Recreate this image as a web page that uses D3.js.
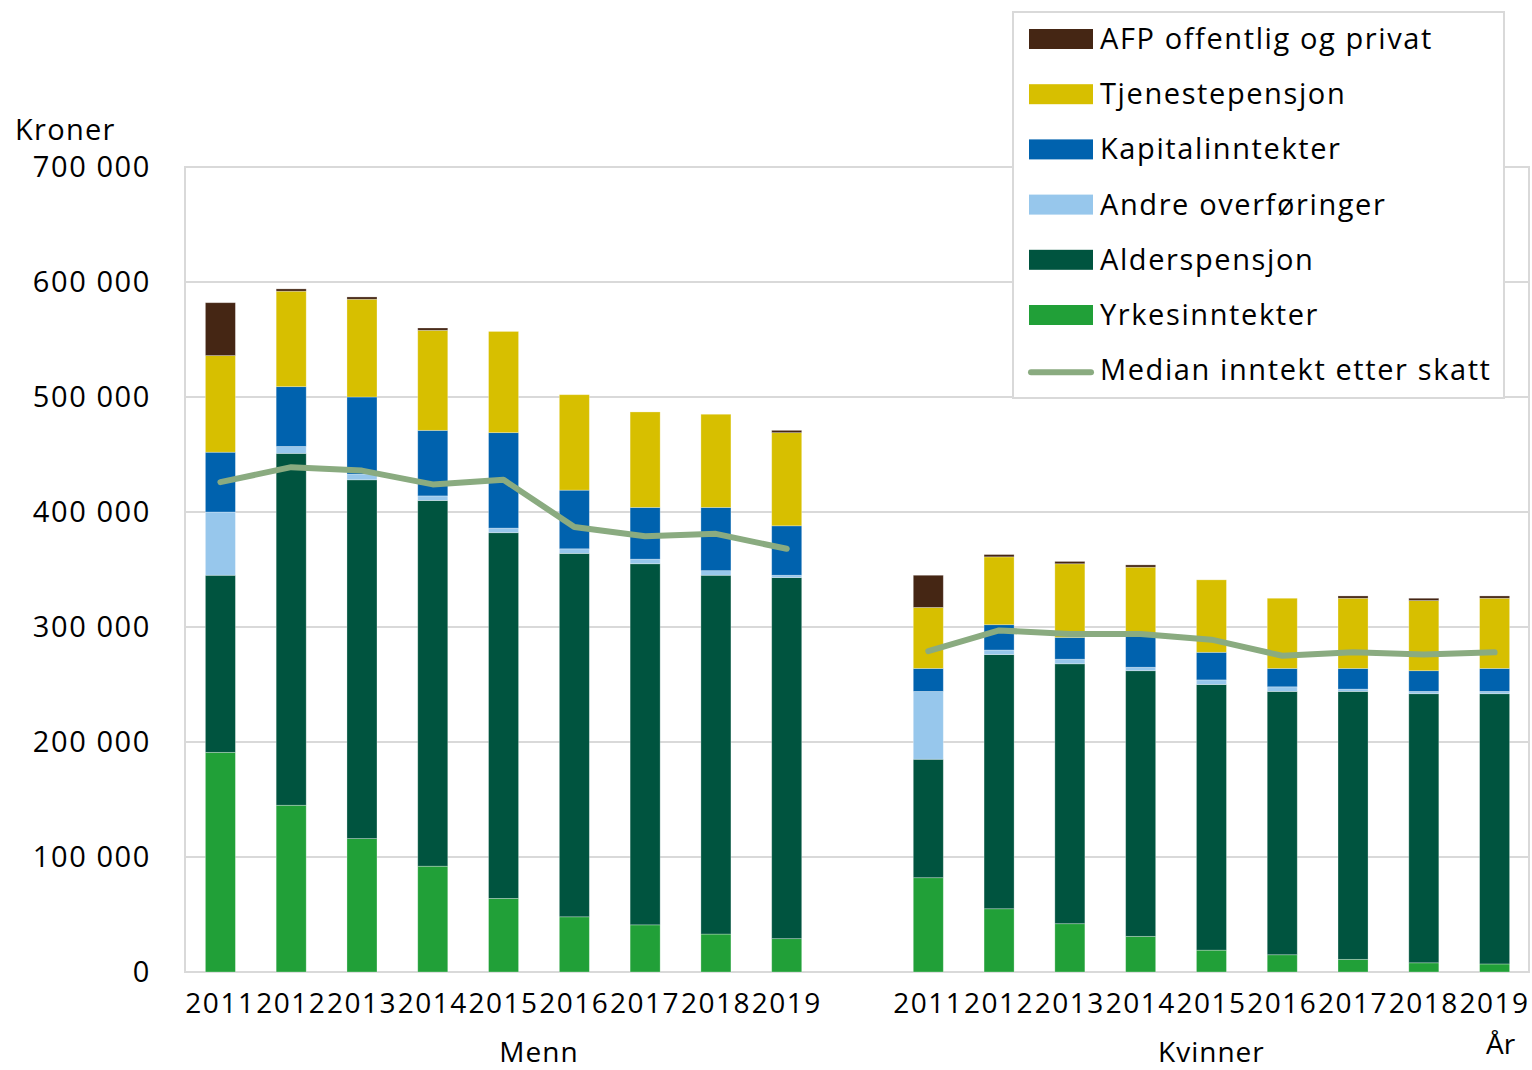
<!DOCTYPE html>
<html><head><meta charset="utf-8">
<script src="https://cdn.jsdelivr.net/npm/d3@7"></script>
<style>body{margin:0;background:#fff}svg{display:block}text{font-family:"Open Sans",sans-serif;fill:#000}</style>
</head><body><svg id="c" width="1532" height="1070"></svg>
<script>
const years = ["2011","2012","2013","2014","2015","2016","2017","2018","2019"];
const groups = ["Menn","Kvinner"];
const seriesNames = ["Yrkesinntekter","Alderspensjon","Andre overføringer","Kapitalinntekter","Tjenestepensjon","AFP offentlig og privat"];
const colors = ["#21a038","#00543f","#97c7ec","#0062ae","#d7bf00","#452614"];
// values in kroner (Menn 2011-2019, Kvinner 2011-2019)
const yrkesMenn   = [191000,145000,116000,92000,64000,48000,41000,33000,29000];
const alderMenn   = [154000,306000,312000,318000,318000,316000,314000,312000,314000];
const andreMenn   = [55000,6000,5000,4000,4000,4000,4000,4000,2000];
const kapMenn     = [52000,52000,67000,57000,83000,51000,45000,55000,43000];
const tjenMenn    = [84000,83000,85000,87000,88000,83000,83000,81000,81000];
const afpMenn     = [46000,2000,2000,2000,0,0,0,0,2000];
const yrkesKv     = [82000,55000,42000,31000,19000,15000,11000,8000,7000];
const alderKv     = [103000,221000,226000,231000,231000,229000,233000,234000,235000];
const andreKv     = [59000,4000,4000,3000,4000,4000,2000,2000,2000];
const kapKv       = [20000,22000,19000,27000,24000,16000,18000,18000,20000];
const tjenKv      = [53000,59000,64000,60000,63000,61000,61000,61000,61000];
const afpKv       = [28000,2000,2000,2000,0,0,2000,2000,2000];
const medianMenn  = [426000,439000,436000,424000,428000,387000,379000,381000,368000];
const medianKv    = [279000,297000,294000,294000,289000,275000,278000,276000,278000];
const yTicks = [0,100000,200000,300000,400000,500000,600000,700000];

const svg = d3.select("#c");
const L=185, R=1530, T=167, B=972;
const keys = [...years.map(y=>"M"+y),"gap",...years.map(y=>"K"+y)];
const x = d3.scaleBand().domain(keys).range([L,R]).paddingInner(0.576).paddingOuter(0.288);
const y = d3.scaleLinear().domain([0,700000]).range([B,T]);
const loc = d3.formatLocale({decimal:",",thousands:"\u00a0",grouping:[3],currency:["",""]});
const fmt = loc.format(",d");

// gridlines
svg.append("g").selectAll("line").data(yTicks.slice(1)).join("line")
  .attr("x1",L).attr("x2",R-1).attr("y1",d=>y(d)).attr("y2",d=>y(d))
  .attr("stroke","#d9d9d9").attr("stroke-width",2);
// plot border
svg.append("rect").attr("x",L).attr("y",T).attr("width",R-1-L).attr("height",B-T)
  .attr("fill","none").attr("stroke","#d9d9d9").attr("stroke-width",2);

// y axis labels
const yAxis = d3.axisLeft(y).tickValues(yTicks).tickFormat(fmt).tickSize(0).tickPadding(34);
const ga = svg.append("g").attr("transform",`translate(${L},0)`).call(yAxis);
ga.select(".domain").remove();
ga.selectAll("text").attr("font-size",29).attr("font-family","Open Sans").attr("fill","#000").attr("letter-spacing",1.6);
svg.append("text").attr("x",15).attr("y",140).attr("font-size",29).attr("letter-spacing",1.3).text("Kroner");

// stacked data
const menn = [yrkesMenn,alderMenn,andreMenn,kapMenn,tjenMenn,afpMenn];
const kv = [yrkesKv,alderKv,andreKv,kapKv,tjenKv,afpKv];
const rows = [];
years.forEach((yr,i)=>{ const r={key:"M"+yr}; seriesNames.forEach((s,j)=>r[s]=menn[j][i]); rows.push(r); });
years.forEach((yr,i)=>{ const r={key:"K"+yr}; seriesNames.forEach((s,j)=>r[s]=kv[j][i]); rows.push(r); });
const stack = d3.stack().keys(seriesNames)(rows);
svg.append("g").selectAll("g").data(stack).join("g").attr("fill",(d,i)=>colors[i])
  .selectAll("rect").data(d=>d).join("rect")
  .attr("x",d=>x(d.data.key)).attr("width",x.bandwidth())
  .attr("y",d=>y(d[1])).attr("height",d=>Math.max(0,y(d[0])-y(d[1])))
  .attr("stroke","rgba(255,255,255,0.35)").attr("stroke-width",0.8);

// median lines
const line = d3.line().x(d=>x(d[0])+x.bandwidth()/2).y(d=>y(d[1]));
[[ "M", medianMenn],["K",medianKv]].forEach(([p,arr])=>{
  svg.append("path").datum(years.map((yr,i)=>[p+yr,arr[i]])).attr("d",line)
    .attr("fill","none").attr("stroke","#8aab80").attr("stroke-width",6)
    .attr("stroke-linecap","round").attr("stroke-linejoin","round");
});

// x labels
svg.append("g").selectAll("text").data(keys.filter(k=>k!=="gap")).join("text")
  .attr("x",d=>x(d)+x.bandwidth()/2).attr("y",1013).attr("text-anchor","middle")
  .attr("font-size",28).attr("letter-spacing",1.5).text(d=>d.slice(1));
const c = k=>x(k)+x.bandwidth()/2;
svg.append("text").attr("x",(c("M2011")+c("gap"))/2).attr("y",1062).attr("text-anchor","middle").attr("font-size",28).attr("letter-spacing",1).text(groups[0]);
svg.append("text").attr("x",(c("K2011")+c("K2019"))/2).attr("y",1062).attr("text-anchor","middle").attr("font-size",28).attr("letter-spacing",1).text(groups[1]);
svg.append("text").attr("x",c("K2019")+6).attr("y",1054).attr("text-anchor","middle").attr("font-size",28).text("År");

// legend
const lg = svg.append("g");
lg.append("rect").attr("x",1013).attr("y",12).attr("width",491).attr("height",386)
  .attr("fill","#fff").attr("stroke","#d9d9d9").attr("stroke-width",2);
const legItems = [5,4,3,2,1,0].map(i=>({name:seriesNames[i],color:colors[i],type:"rect"}))
  .concat([{name:"Median inntekt etter skatt",color:"#8aab80",type:"line"}]);
legItems.forEach((d,i)=>{
  const cy = 39 + i*55.2;
  if(d.type==="rect") lg.append("rect").attr("x",1029).attr("y",cy-10).attr("width",64).attr("height",20).attr("fill",d.color);
  else lg.append("line").attr("x1",1031).attr("x2",1091).attr("y1",cy+2).attr("y2",cy+2).attr("stroke",d.color).attr("stroke-width",6).attr("stroke-linecap","round");
  lg.append("text").attr("x",1100).attr("y",cy+10).attr("font-size",29).attr("letter-spacing",1.6).text(d.name);
});
</script></body></html>
